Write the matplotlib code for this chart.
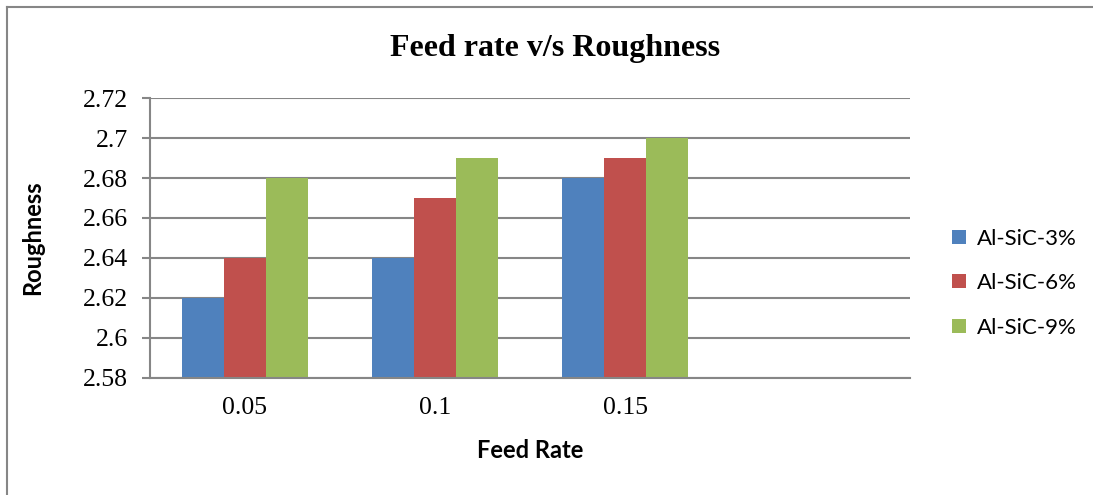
import numpy as np
import matplotlib
matplotlib.use("Agg")
import matplotlib.pyplot as plt
from matplotlib.lines import Line2D
from matplotlib.patches import Patch

# Feed rate categories (a fourth empty slot is kept on the axis)
FEED_RATES = ["0.05", "0.1", "0.15"]
N_SLOTS = 4

SERIES = ["Al-SiC-3%", "Al-SiC-6%", "Al-SiC-9%"]
SIC_3 = [2.62, 2.64, 2.68]
SIC_6 = [2.64, 2.67, 2.69]
SIC_9 = [2.68, 2.69, 2.70]

Y_TICKS = [2.58, 2.6, 2.62, 2.64, 2.66, 2.68, 2.7, 2.72]
Y_TICK_LABELS = ["2.58", "2.6", "2.62", "2.64", "2.66", "2.68", "2.7", "2.72"]

COLORS = ["#4F81BD", "#C0504D", "#9BBB59"]
GRID = "#868686"
SERIF = ["Liberation Serif", "DejaVu Serif"]
SANS = ["Lato", "DejaVu Sans"]

fig = plt.figure(figsize=(10.93, 4.95), dpi=100)
ax = fig.add_axes([0.1372, 0.2364, 0.6954, 0.5656])

x = np.arange(len(FEED_RATES))
width = 1 / 4.5
for i, (vals, col) in enumerate(zip([SIC_3, SIC_6, SIC_9], COLORS)):
    ax.bar(x + (i - 1) * width, np.array(vals) - Y_TICKS[0], width,
           bottom=Y_TICKS[0], color=col, zorder=3, linewidth=0)

ax.set_xlim(-0.5, N_SLOTS - 0.5)
ax.set_ylim(Y_TICKS[0], Y_TICKS[-1])
ax.set_yticks(Y_TICKS)
ax.set_yticklabels(Y_TICK_LABELS, family=SERIF, fontsize=18.5)
ax.set_xticks(x)
ax.set_xticklabels(FEED_RATES, family=SERIF, fontsize=18.5)
ax.tick_params(axis="x", length=0, pad=14)
ax.tick_params(axis="y", length=6, width=1.5, color=GRID, pad=10)
ax.yaxis.grid(True, color=GRID, linewidth=1.5, zorder=0)

for side in ["top", "right"]:
    ax.spines[side].set_visible(False)
for side in ["left", "bottom"]:
    ax.spines[side].set_color(GRID)
    ax.spines[side].set_linewidth(1.5)
    ax.spines[side].set_zorder(4)

ax.set_xlabel("Feed Rate", family=SANS, fontweight="bold", fontsize=17, labelpad=14)
ax.set_ylabel("Roughness", family=SANS, fontweight="bold", fontsize=17)
ax.yaxis.set_label_coords(-0.139, 0.5)

fig.text(0.508, 0.903, "Feed rate v/s Roughness", family=SERIF,
         fontweight="bold", fontsize=23, ha="center", va="center")

handles = [Patch(facecolor=c, edgecolor="none") for c in COLORS]
fig.legend(handles, SERIES, loc="center left", bbox_to_anchor=(0.853, 0.428),
           frameon=False, prop={"family": SANS, "size": 16},
           handlelength=0.6, handleheight=0.6, handletextpad=0.5,
           labelspacing=1.1)

# chart frame
fig.add_artist(Line2D([0.0064, 0.0064], [0, 0.986], transform=fig.transFigure,
                      color=GRID, linewidth=1.5))
fig.add_artist(Line2D([0.0064, 1], [0.986, 0.986], transform=fig.transFigure,
                      color=GRID, linewidth=1.5))

fig.savefig("out.png", dpi=100)
